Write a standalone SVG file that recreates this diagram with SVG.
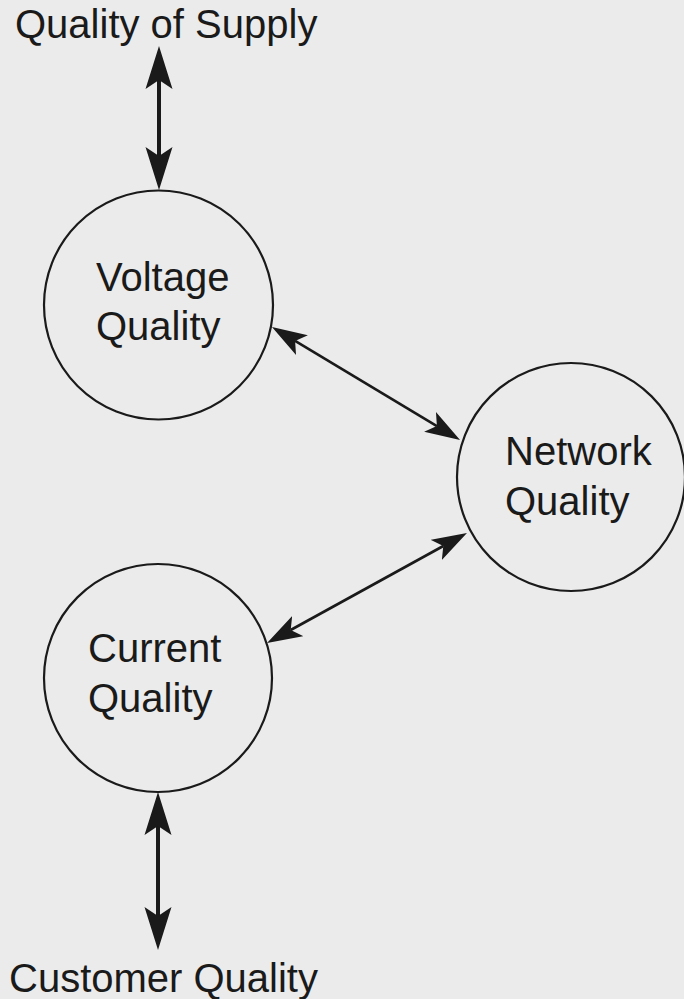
<svg xmlns="http://www.w3.org/2000/svg" width="684" height="999" viewBox="0 0 684 999">
  <style>
    .bg { fill: #ebebeb; }
    .node { fill: none; stroke: #1a1a1a; stroke-width: 2.2; }
    .lbl { font-family: "Liberation Sans", Arial, sans-serif; font-size: 40px; fill: #1a1a1a; }
    .thick { stroke: #1a1a1a; stroke-width: 4; fill: none; marker-start: url(#headBig); marker-end: url(#headBig); }
    .thin { stroke: #1a1a1a; stroke-width: 2.6; fill: none; marker-start: url(#headSmall); marker-end: url(#headSmall); }
  </style>
  <defs>
    <marker id="headBig" markerUnits="userSpaceOnUse" viewBox="-9 -14 44 28" refX="0" refY="0" markerWidth="44" markerHeight="28" orient="auto-start-reverse">
      <path d="M34,0 L-9,-13.5 L0,0 L-9,13.5 Z" fill="#1a1a1a"/>
    </marker>
    <marker id="headSmall" markerUnits="userSpaceOnUse" viewBox="-8 -12 36 24" refX="0" refY="0" markerWidth="36" markerHeight="24" orient="auto-start-reverse">
      <path d="M27,0 L-8,-11.5 L0,0 L-8,11.5 Z" fill="#1a1a1a"/>
    </marker>
  </defs>
  <rect class="bg" x="0" y="0" width="684" height="999"/>

  <g id="connectors">
    <line class="thick" x1="159" y1="80" x2="159" y2="156"/>
    <line class="thick" x1="158" y1="826" x2="158" y2="916"/>
    <line class="thin" x1="295.1" y1="340.9" x2="436.9" y2="426.1"/>
    <line class="thin" x1="443.3" y1="546" x2="290.7" y2="630"/>
  </g>

  <g id="quality-of-supply">
    <text class="lbl" x="15" y="38">Quality of Supply</text>
  </g>

  <g id="voltage-quality">
    <circle class="node" cx="158.5" cy="305" r="114.5"/>
    <text class="lbl" x="96" y="291">Voltage</text>
    <text class="lbl" x="96" y="340">Quality</text>
  </g>

  <g id="network-quality">
    <circle class="node" cx="571" cy="477" r="114"/>
    <text class="lbl" x="505" y="465">Network</text>
    <text class="lbl" x="505" y="515">Quality</text>
  </g>

  <g id="current-quality">
    <circle class="node" cx="158" cy="678" r="114"/>
    <text class="lbl" x="88" y="662">Current</text>
    <text class="lbl" x="88" y="712">Quality</text>
  </g>

  <g id="customer-quality">
    <text class="lbl" x="9" y="992">Customer Quality</text>
  </g>
</svg>
